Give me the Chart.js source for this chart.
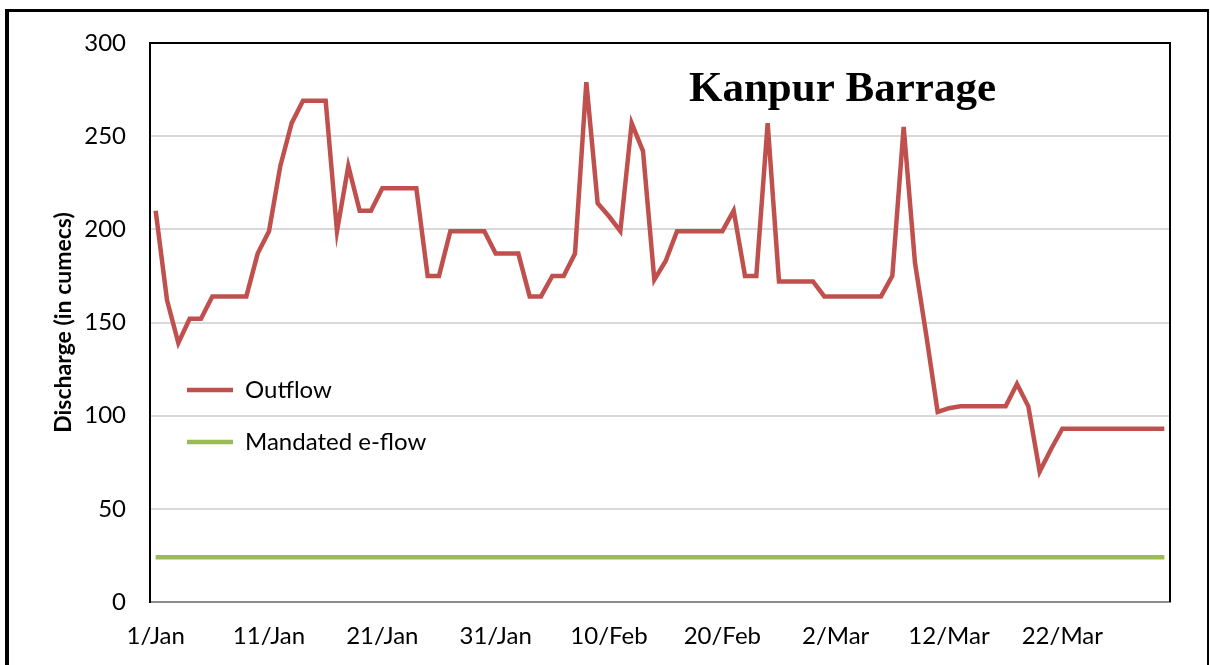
<!DOCTYPE html>
<html lang="en">
<head>
  <meta charset="UTF-8" />
  <title>Kanpur Barrage</title>
  <script src="https://cdn.jsdelivr.net/npm/chart.js"></script>
  <style>
    html, body { margin: 0; padding: 0; background: #fff; }
    #wrap { position: relative; width: 1210px; height: 665px; overflow: hidden; }
    #frame {
      position: absolute; left: 5px; top: 9px; width: 1198px; height: 680px;
      border-left: 4px solid #000; border-top: 3px solid #000; border-right: 2px solid #000;
    }
    canvas { position: absolute; left: 0; top: 0; }
  </style>
</head>
<body>
  <div id="wrap">
    <div id="frame"></div>
    <canvas id="flowChart" width="1210" height="665"></canvas>
  </div>

  <script>
    // month names and lengths for the daily categories (1/Jan .. 31/Mar)
    const months = ['Jan', 'Feb', 'Mar'];
    const monthDays = [31, 28, 31];
    const tickLabels = ['1/Jan', '11/Jan', '21/Jan', '31/Jan', '10/Feb', '20/Feb', '2/Mar', '12/Mar', '22/Mar'];

    // daily outflow (cumecs)
    const outflow = [
      210, 162, 139, 152, 152, 164, 164, 164, 164, 187,
      199, 234, 257, 269, 269, 269, 199, 234, 210, 210,
      222, 222, 222, 222, 175, 175, 199, 199, 199, 199,
      187, 187, 187, 164, 164, 175, 175, 187, 279, 214,
      207, 199, 257, 242, 173, 183, 199, 199, 199, 199,
      199, 210, 175, 175, 257, 172, 172, 172, 172, 164,
      164, 164, 164, 164, 164, 175, 255, 182, 143, 102,
      104, 105, 105, 105, 105, 105, 117, 105, 70, 82,
      93, 93, 93, 93, 93, 93, 93, 93, 93, 93
    ];

    // mandated e-flow (cumecs)
    const eflow = [
      24, 24, 24, 24, 24, 24, 24, 24, 24, 24, 24, 24, 24, 24, 24,
      24, 24, 24, 24, 24, 24, 24, 24, 24, 24, 24, 24, 24, 24, 24,
      24, 24, 24, 24, 24, 24, 24, 24, 24, 24, 24, 24, 24, 24, 24,
      24, 24, 24, 24, 24, 24, 24, 24, 24, 24, 24, 24, 24, 24, 24,
      24, 24, 24, 24, 24, 24, 24, 24, 24, 24, 24, 24, 24, 24, 24,
      24, 24, 24, 24, 24, 24, 24, 24, 24, 24, 24, 24, 24, 24, 24
    ];

    const days = [];
    months.forEach((m, i) => {
      for (let d = 1; d <= monthDays[i]; d++) days.push(d + '/' + m);
    });

    const FONT = 'Lato';

    // legend moved into the plot, plot border + title inside the plot
    const decor = {
      id: 'decor',
      afterLayout(chart) {
        const lg = chart.legend;
        const ca = chart.chartArea;
        lg.left = ca.left + 9;
        lg.top = ca.top + 307;
      },
      afterDraw(chart) {
        const { ctx, chartArea: ca } = chart;
        ctx.save();
        ctx.strokeStyle = '#000';
        ctx.lineWidth = 2;
        ctx.beginPath();
        ctx.moveTo(ca.left, ca.top);
        ctx.lineTo(ca.right, ca.top);
        ctx.lineTo(ca.right, ca.bottom);
        ctx.stroke();
        ctx.fillStyle = '#000';
        ctx.font = 'bold 43px "Liberation Serif"';
        ctx.textBaseline = 'alphabetic';
        ctx.fillText('Kanpur Barrage', 689, 101);
        ctx.restore();
      }
    };

    new Chart(document.getElementById('flowChart'), {
      type: 'line',
      data: {
        labels: days,
        datasets: [
          {
            label: 'Outflow',
            data: outflow,
            borderColor: '#c0504d',
            backgroundColor: '#c0504d',
            borderWidth: 4.5,
            pointRadius: 0,
            tension: 0
          },
          {
            label: 'Mandated e-flow',
            data: eflow,
            borderColor: '#9bbb59',
            backgroundColor: '#9bbb59',
            borderWidth: 4.5,
            pointRadius: 0,
            tension: 0
          }
        ]
      },
      options: {
        responsive: false,
        animation: false,
        layout: { padding: { top: 43, right: 40, left: 0, bottom: 0 } },
        plugins: {
          tooltip: { enabled: false },
          legend: {
            position: 'chartArea',
            align: 'start',
            labels: {
              usePointStyle: true,
              pointStyle: 'line',
              pointStyleWidth: 46,
              padding: 28,
              color: '#000',
              font: { family: FONT, size: 24 }
            }
          }
        },
        scales: {
          x: {
            offset: true,
            grid: { display: false, drawTicks: false },
            border: { display: true, color: '#8c8c8c', width: 2 },
            ticks: {
              autoSkip: false,
              maxRotation: 0,
              padding: 20,
              color: '#000',
              font: { family: FONT, size: 24 },
              callback: (v, i) => (i % 10 === 0 ? tickLabels[i / 10] : '')
            },
            afterFit: s => { s.height = 63; }
          },
          y: {
            min: 0,
            max: 300,
            ticks: { stepSize: 50, padding: 24, color: '#000', font: { family: FONT, size: 24 } },
            grid: { color: '#d9d9d9', lineWidth: 2, drawTicks: false },
            border: { display: true, color: '#000', width: 2 },
            title: {
              display: true,
              text: 'Discharge (in cumecs)',
              color: '#000',
              font: { family: FONT, size: 23, weight: 'bold' },
              padding: { top: 50, bottom: 0 }
            },
            afterFit: s => { s.width = 150; }
          }
        }
      },
      plugins: [decor]
    });
  </script>
</body>
</html>
